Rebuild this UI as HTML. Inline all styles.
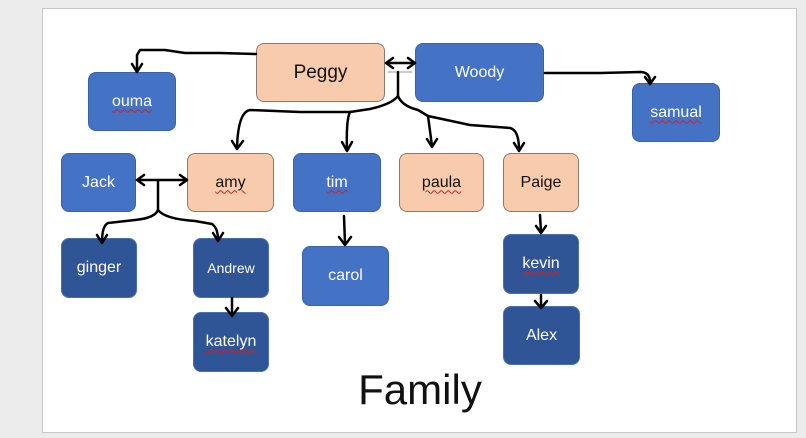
<!DOCTYPE html>
<html><head><meta charset="utf-8"><style>
body{margin:0;width:806px;height:438px;background:#ececec;position:relative;overflow:hidden;font-family:"Liberation Sans",sans-serif}
#slide{position:absolute;left:42px;top:8px;width:753px;height:423px;background:#fff;border:1px solid #c6c6c6}
.b{position:absolute;box-sizing:border-box;border-radius:8px;display:flex;align-items:center;justify-content:center;font-size:16px;color:#fff;background:#4472c4;border:1px solid #3a62a8}
.p{background:#f8cbad;color:#111;border:1px solid #8a7a70}
.d{background:#2f5597;border:1px solid #4a70b0}
.s{text-decoration:underline wavy #d02020;text-decoration-thickness:1px;text-underline-offset:3px}
svg{position:absolute;left:0;top:0}
</style></head><body>
<div id="slide"></div>
<div class="b p" style="left:256px;top:43px;width:129px;height:59px;font-size:19px">Peggy</div>
<div class="b" style="left:415px;top:43px;width:129px;height:59px">Woody</div>
<div class="b" style="left:88px;top:72px;width:88px;height:59px"><span class="s">ouma</span></div>
<div class="b" style="left:632px;top:83px;width:88px;height:59px"><span class="s">samual</span></div>
<div class="b" style="left:61px;top:153px;width:75px;height:59px">Jack</div>
<div class="b p" style="left:187px;top:153px;width:87px;height:59px"><span class="s">amy</span></div>
<div class="b" style="left:293px;top:153px;width:88px;height:59px"><span class="s">tim</span></div>
<div class="b p" style="left:399px;top:153px;width:85px;height:59px"><span class="s">paula</span></div>
<div class="b p" style="left:503px;top:153px;width:76px;height:59px">Paige</div>
<div class="b d" style="left:61px;top:238px;width:76px;height:60px">ginger</div>
<div class="b d" style="left:193px;top:238px;width:76px;height:60px;font-size:14px">Andrew</div>
<div class="b" style="left:302px;top:246px;width:87px;height:60px">carol</div>
<div class="b d" style="left:503px;top:234px;width:76px;height:60px"><span class="s">kevin</span></div>
<div class="b d" style="left:193px;top:312px;width:76px;height:60px"><span class="s">katelyn</span></div>
<div class="b d" style="left:503px;top:306px;width:77px;height:59px">Alex</div>
<div style="position:absolute;left:320px;top:366px;width:200px;text-align:center;font-size:42px;color:#111;font-weight:300">Family</div>
<svg width="806" height="438" fill="none" stroke="#000" stroke-width="2.5" stroke-linecap="round" stroke-linejoin="round">
<path d="M256,54 L220,53 L185,53 L165,50 L140,50 L137,55 L137,71"/><path d="M132,64 L137,72 L142,64"/>
<path d="M387,63 L414,63"/><path d="M393,58 L386,63 L393,68"/><path d="M408,58 L415,63 L408,68"/>
<path d="M388,72 L412,72" stroke="#999" stroke-width="1"/>
<path d="M398,72 L398,96 Q392,104 370,109 L350,112 L300,112 L250,110 Q238,112 237,148"/><path d="M232,141 L237,149 L243,141"/>
<path d="M350,112 Q346,120 347,150"/><path d="M342,142 L347,151 L352,142"/>
<path d="M398,96 Q402,106 418,110 L428,116 L432,146"/><path d="M427,139 L432,147 L437,139"/>
<path d="M428,116 L470,125 L510,128 Q519,130 519,150"/><path d="M514,143 L519,151 L524,143"/>
<path d="M545,73 L600,73 L640,72 Q650,72 650,82"/><path d="M645,77 L650,84 L655,77"/>
<path d="M138,180 L186,180"/><path d="M144,175 L137,180 L144,185"/><path d="M180,175 L187,180 L180,185"/>
<path d="M158,180 L158,210 Q155,218 135,220 L108,223 Q102,226 102,242"/><path d="M97,235 L102,243 L107,235"/>
<path d="M158,210 Q165,219 195,221 L212,224 Q218,228 218,240"/><path d="M213,233 L218,241 L223,233"/>
<path d="M232,298 L232,315"/><path d="M226,308 L232,316 L238,308"/>
<path d="M344,216 L345,244"/><path d="M339,237 L345,245 L351,237"/>
<path d="M540,215 L541,232"/><path d="M536,226 L541,233 L546,226"/>
<path d="M541,295 L541,307"/><path d="M535,301 L541,308 L547,301"/>
</svg>
</body></html>
